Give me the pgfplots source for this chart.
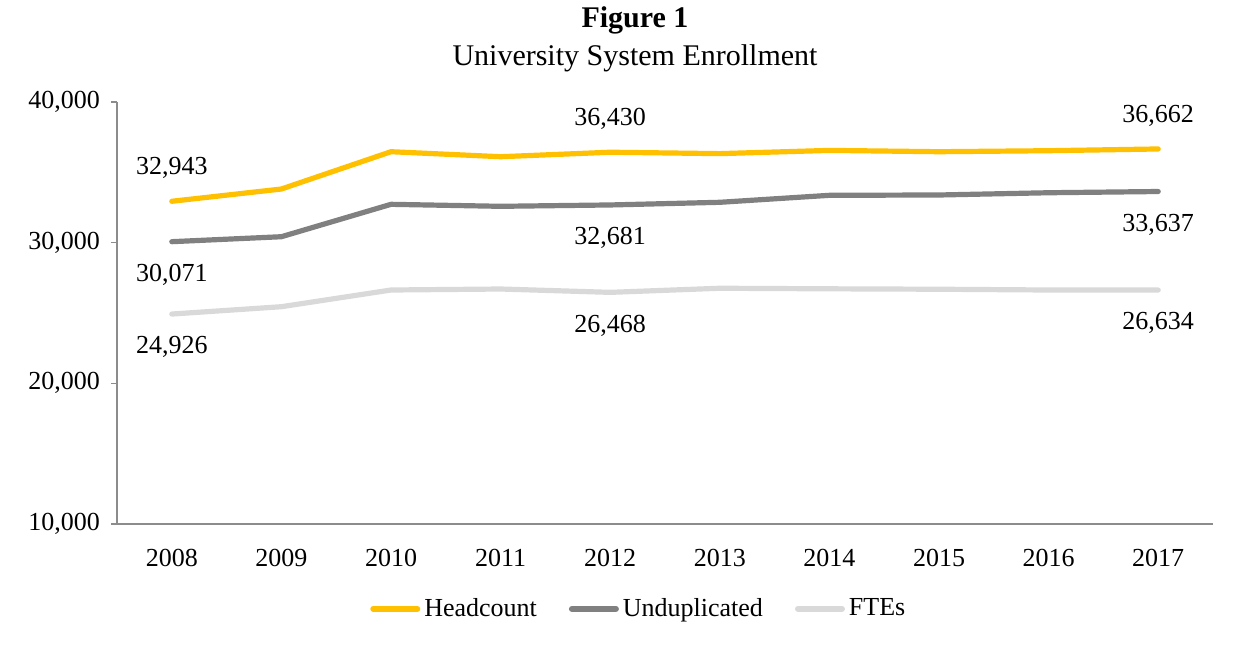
\documentclass[border=0pt]{standalone}
\usepackage{fontspec}
\setmainfont{Liberation Serif}
\usepackage{pgfplots}
\pgfplotsset{compat=1.18}
\definecolor{cHead}{HTML}{FFC000}
\definecolor{cUnd}{HTML}{808080}
\definecolor{cFte}{HTML}{D9D9D9}
\definecolor{cAxis}{HTML}{8C8C8C}
\begin{document}
\begin{tikzpicture}
\useasboundingbox (-58.5pt,-60.5pt) rectangle (568.5pt,262pt);
\begin{axis}[
  at={(0pt,0pt)}, anchor=south west,
  scale only axis, width=548pt, height=211pt,
  xmin=-0.5, xmax=9.5, ymin=10000, ymax=40000,
  xtick={0,...,9},
  xticklabels={2008,2009,2010,2011,2012,2013,2014,2015,2016,2017},
  extra x ticks={-0.5,0.5,1.5,2.5,3.5,4.5,5.5,6.5,7.5,8.5,9.5},
  extra x tick labels={},
  extra x tick style={major tick length=3pt, tick style={draw=cAxis, line width=0.6pt}},
  ytick={10000,20000,30000,40000},
  major x tick style={draw=none},
  y tick style={draw=cAxis, line width=0.6pt},
  major tick length=3pt,
  tick align=outside,
  axis x line*=bottom, axis y line*=left,
  axis line style={draw=cAxis, line width=0.6pt, -},
  /pgf/number format/assume math mode=true,
  /pgf/number format/1000 sep={,},
  scaled y ticks=false,
  yticklabel style={/pgf/number format/fixed, xshift=-2pt},
  xticklabel style={yshift=-6pt},
  tick label style={font=\fontsize{13}{15}\selectfont},
  legend style={at={(0.477,-0.201)}, anchor=center, draw=none, fill=none,
    legend columns=3, font=\fontsize{13}{15}\selectfont,
    /tikz/every even column/.append style={column sep=14pt}},
  legend image code/.code={\draw[#1, line width=3pt, line cap=round] (0pt,0pt) -- (22pt,0pt);},
  clip=false,
]
\addplot[cHead, line width=2.6pt, line join=round, line cap=round] coordinates {
(0,32943) (1,33815) (2,36467) (3,36111) (4,36430) (5,36330) (6,36560) (7,36467) (8,36538) (9,36662)};
\addlegendentry{Headcount}
\addplot[cUnd, line width=2.6pt, line join=round, line cap=round] coordinates {
(0,30071) (1,30424) (2,32727) (3,32585) (4,32681) (5,32870) (6,33367) (7,33390) (8,33550) (9,33637)};
\addlegendentry{Unduplicated}
\addplot[cFte, line width=2.6pt, line join=round, line cap=round] coordinates {
(0,24926) (1,25448) (2,26635) (3,26706) (4,26468) (5,26760) (6,26720) (7,26690) (8,26635) (9,26634)};
\addlegendentry{FTEs}
% data labels
\addplot[draw=none, forget plot, point meta=y,
  nodes near coords={\pgfmathprintnumber[fixed,precision=0,1000 sep={,},assume math mode=true]{\pgfplotspointmeta}},
  every node near coord/.append style={anchor=center, yshift=16.5pt, font=\fontsize{13}{15}\selectfont, text=black}]
  coordinates {(0,32943) (4,36430) (9,36662)};
\addplot[draw=none, forget plot, point meta=y,
  nodes near coords={\pgfmathprintnumber[fixed,precision=0,1000 sep={,},assume math mode=true]{\pgfplotspointmeta}},
  every node near coord/.append style={anchor=center, yshift=-16.5pt, font=\fontsize{13}{15}\selectfont, text=black}]
  coordinates {(0,30071) (4,32681) (9,33637) (0,24926) (4,26468) (9,26634)};
\end{axis}
\node[font=\fontsize{15}{17}\selectfont\bfseries] at (259pt,252pt) {Figure 1};
\node[font=\fontsize{15}{17}\selectfont] at (259pt,233pt) {University System Enrollment};
\end{tikzpicture}
\end{document}
